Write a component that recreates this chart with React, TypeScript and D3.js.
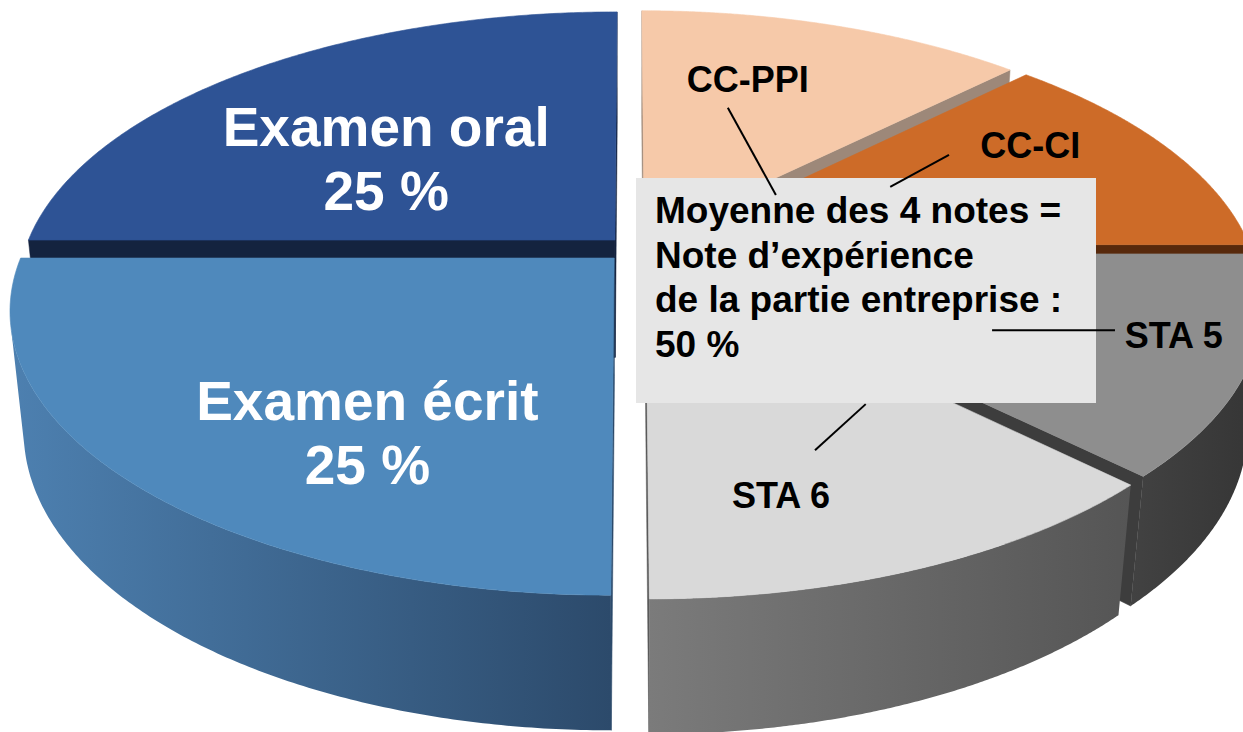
import * as d3 from 'd3';

// data
const slices = ['CC-PPI', 'CC-CI', 'STA 5', 'STA 6', 'Examen écrit', 'Examen oral'];
const shares = [12.5, 12.5, 12.5, 12.5, 25, 25];
const shareLabels = ['', '', '', '', '25 %', '25 %'];
const noteLines = ['Moyenne des 4 notes =', 'Note d’expérience', 'de la partie entreprise :', '50 %'];

// styles
const topColors = ['#f6c9a9', '#cd6b28', '#8e8e8e', '#d9d9d9', '#4f89bc', '#2e5395'];
const edgeColors = ['#9d8879', '#57290c', '#3d3d3d', '#5a5a5a', '#2c4a6b', '#14233f'];
const wallColors = [
  ['#b89a86', '#9d8879'],
  ['#8a4519', '#57290c'],
  ['#424242', '#353535'],
  ['#7b7b7b', '#555555'],
  ['#4d80b0', '#2c4a6b'],
  ['#2a4a80', '#14233f'],
];
// slice explosion, in pie-plane units (x right, y away from viewer)
const explode = [
  [0.026, 0.039],
  [0.054, 0.016],
  [0.05, -0.018],
  [0.028, -0.042],
  [-0.025, -0.033],
  [-0.024, 0.033],
];
// label anchor (radius fraction, angle in degrees) inside each slice
const labelPos = [
  [0.637, 18.2],
  [0.751, 63.1],
  [0.878, 111.6],
  [0.793, 166.0],
  [0.649, 215.1],
  [0.56, 311.75],
];
// leader lines (from, to) in the same polar coords
const leaders: ([number, number][] | null)[] = [
  [[0.556, 16.6], [0.286, 54.3]],
  [[0.632, 56.1], [0.464, 61.5]],
  [[0.778, 109.9], [0.596, 116.4]],
  [[0.659, 157.7], [0.581, 144.7]],
  null,
  null,
];

const W = 1243;
const H = 732;
const cx = 629;
const cy = 249;
const F = 2891; // focal length (px per unit at unit depth)
const D = 4.9; // camera distance in radii
const tilt = 27.5 * (Math.PI / 180);
const sinT = Math.sin(tilt);
const cosT = Math.cos(tilt);
const thick = 0.23;
const deg = Math.PI / 180;
const font = '"Liberation Sans", Arial, Helvetica, sans-serif';

const box = { x: 636, y: 178, w: 460, h: 225, fill: '#e6e6e6' };

function project(X: number, Y: number, Z: number): [number, number] {
  const w = D + Y * cosT - Z * sinT;
  return [cx + (F * X) / w, cy - (F * (Y * sinT + Z * cosT)) / w];
}

export default function App() {
  const arcs = d3.pie<number>().sort(null).value((d) => d)(shares);
  const line = d3.line<[number, number]>();
  const path = (pts: [number, number][]) => (line(pts) || '') + 'Z';

  const at = (i: number, r: number, a: number, z = 0) =>
    project(explode[i][0] + r * Math.sin(a), explode[i][1] + r * Math.cos(a), z);

  const camY = D * cosT;

  const shapes = arcs.map((arc, i) => {
    const [dx, dy] = explode[i];
    const a0 = arc.startAngle;
    const a1 = arc.endAngle;
    const n = 180;
    const ts = d3.range(n + 1).map((k) => a0 + ((a1 - a0) * k) / n);

    const top = path([at(i, 0, 0), ...ts.map((t) => at(i, 1, t))]);

    // outer wall: keep the part that faces the camera
    const vis = ts.filter((t) => -dx * Math.sin(t) - (camY + dy) * Math.cos(t) - 1 > 0);
    let wall: string | null = null;
    if (vis.length > 1) {
      wall = path([
        ...vis.map((t) => at(i, 1, t)),
        ...vis
          .slice()
          .reverse()
          .map((t) => at(i, 1, t, -thick)),
      ]);
    }

    // radial cut faces
    const faces: string[] = [];
    const face = (a: number) =>
      path([at(i, 0, 0), at(i, 1, a), at(i, 1, a, -thick), at(i, 0, 0, -thick)]);
    if (dx * Math.cos(a0) - (camY + dy) * Math.sin(a0) > 0) faces.push(face(a0));
    if (-dx * Math.cos(a1) + (camY + dy) * Math.sin(a1) > 0) faces.push(face(a1));

    const mid = (a0 + a1) / 2;
    const depthKey = dy + 0.5 * Math.cos(mid);
    return { i, top, wall, faces, depthKey };
  });

  const order = shapes.slice().sort((a, b) => b.depthKey - a.depthKey);

  return (
    <svg
      width={W}
      height={H}
      viewBox={`0 0 ${W} ${H}`}
      style={{ position: 'absolute', left: 0, top: 0, background: '#ffffff' }}
    >
      <defs>
        {wallColors.map((c, i) => (
          <linearGradient key={i} id={`wall${i}`} x1="0" x2="1" y1="0" y2="0">
            <stop offset="0" stopColor={c[0]} />
            <stop offset="1" stopColor={c[1]} />
          </linearGradient>
        ))}
      </defs>

      {order.map((s) => (
        <g key={slices[s.i]}>
          {s.faces.map((f, k) => (
            <path key={k} d={f} fill={edgeColors[s.i]} stroke={edgeColors[s.i]} strokeWidth={0.5} />
          ))}
          {s.wall && <path d={s.wall} fill={`url(#wall${s.i})`} />}
          <path d={s.top} fill={topColors[s.i]} stroke={topColors[s.i]} strokeWidth={0.6} />
        </g>
      ))}

      <rect x={box.x} y={box.y} width={box.w} height={box.h} fill={box.fill} />
      <text fontFamily={font} fontWeight="bold" fontSize={37} fill="#000">
        {noteLines.map((t, k) => (
          <tspan key={k} x={box.x + 19} y={box.y + 45 + k * 44.7}>
            {t}
          </tspan>
        ))}
      </text>

      {leaders.map((ld, i) => {
        if (!ld) return null;
        const p0 = at(i, ld[0][0], ld[0][1] * deg);
        const p1 = at(i, ld[1][0], ld[1][1] * deg);
        return <line key={i} x1={p0[0]} y1={p0[1]} x2={p1[0]} y2={p1[1]} stroke="#000" strokeWidth={2} />;
      })}

      {arcs.map((_, i) => {
        const [x, y] = at(i, labelPos[i][0], labelPos[i][1] * deg);
        if (shareLabels[i]) {
          return (
            <text key={i} fontFamily={font} fontWeight="bold" fontSize={55} fill="#fff" textAnchor="middle">
              <tspan x={x} y={y}>
                {slices[i]}
              </tspan>
              <tspan x={x} dy={64}>
                {shareLabels[i]}
              </tspan>
            </text>
          );
        }
        return (
          <text key={i} x={x} y={y} fontFamily={font} fontWeight="bold" fontSize={36} fill="#000" textAnchor="middle">
            {slices[i]}
          </text>
        );
      })}
    </svg>
  );
}
